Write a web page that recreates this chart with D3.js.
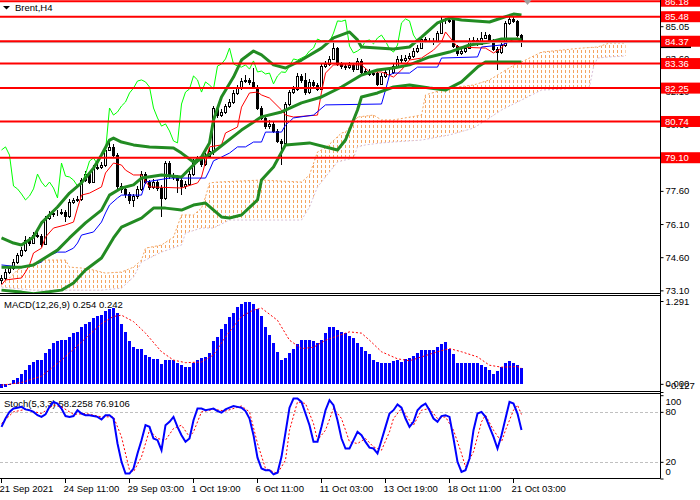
<!DOCTYPE html>
<html>
<head>
<meta charset="utf-8">
<script src="https://cdn.jsdelivr.net/npm/d3@7"></script>
<style>
body { margin: 0; background: #fff; }
svg { display: block; font-family: "Liberation Sans", Arial, sans-serif; font-size: 9.5px; }
.axis path { display: none; }
.axis line { stroke: #000; }
.axis text { fill: #000; font-family: "Liberation Sans", Arial, sans-serif; font-size: 9.5px; }
.kumo line { shape-rendering: crispEdges; }
</style>
</head>
<body>
<div id="chart"></div>
<script>
// DATA (Brent H4, bars numbered from 0 = first candle on screen)
const barOpen = [
    73.55, 73.66, 73.93, 74.11, 74.38, 74.70, 74.92, 75.38, 75.24, 75.60,
    75.56, 75.20, 76.37, 76.55, 76.60, 76.58, 76.64, 76.46, 77.10, 77.19,
    77.23, 78.09, 78.36, 78.00, 78.63, 78.68, 78.77, 79.45, 79.59, 79.22,
    77.82, 77.69, 77.46, 77.19, 77.37, 77.69, 78.36, 78.00, 77.78, 78.00,
    77.73, 77.28, 78.86, 78.27, 78.23, 78.09, 77.82, 77.91, 78.36, 78.95,
    79.09, 78.81, 79.18, 79.40, 81.35, 81.03, 81.17, 81.44, 81.62, 82.03,
    82.25, 82.57, 82.62, 82.53, 82.30, 81.35, 80.90, 80.53, 80.63, 80.31,
    79.86, 79.77, 81.53, 82.07, 82.21, 82.80, 82.62, 82.07, 82.53, 82.39,
    82.21, 83.25, 83.34, 83.57, 84.06, 83.34, 83.25, 83.20, 83.30, 83.11,
    83.48, 82.98, 83.02, 82.89, 82.93, 82.44, 82.80, 82.98, 82.96, 83.25,
    83.57, 83.52, 83.61, 83.70, 83.93, 84.06, 84.47, 84.38, 84.40, 84.34,
    84.74, 85.29, 85.27, 85.33, 84.15, 83.84, 83.93, 84.06, 84.38, 84.43,
    84.25, 84.52, 84.65, 84.38, 84.02, 83.88, 84.20, 85.20, 85.38, 85.29,
    84.65
];
const barHigh = [
    73.78, 74.05, 74.22, 74.50, 74.80, 75.05, 75.55, 75.50, 75.72, 75.75,
    75.66, 76.48, 76.70, 76.75, 76.72, 76.80, 76.75, 77.22, 77.30, 77.35,
    78.20, 78.50, 78.45, 78.75, 78.80, 78.90, 79.55, 79.90, 79.70, 79.30,
    77.95, 77.80, 77.55, 77.48, 77.80, 78.48, 78.45, 78.10, 78.12, 78.10,
    77.85, 78.96, 78.95, 78.40, 78.32, 78.20, 78.05, 78.48, 79.05, 79.20,
    79.18, 79.30, 79.52, 81.45, 81.45, 81.30, 81.55, 81.75, 82.15, 82.38,
    82.70, 82.84, 82.72, 83.16, 82.38, 81.42, 81.00, 80.80, 80.72, 80.40,
    79.95, 81.62, 82.18, 82.35, 82.95, 82.90, 82.93, 82.65, 82.62, 82.48,
    83.35, 83.48, 83.70, 84.34, 84.12, 83.42, 83.35, 83.45, 83.40, 83.62,
    83.55, 83.15, 83.10, 83.05, 83.00, 82.92, 83.10, 83.08, 83.38, 83.70,
    83.75, 83.75, 83.82, 84.05, 84.18, 84.58, 84.55, 84.52, 84.50, 84.85,
    85.47, 85.40, 85.45, 85.40, 84.22, 84.05, 84.18, 84.50, 84.55, 84.50,
    84.79, 84.78, 84.70, 84.45, 84.10, 84.32, 85.28, 85.56, 85.48, 85.35,
    84.72
];
const barLow = [
    73.40, 73.58, 73.85, 74.02, 74.30, 74.62, 74.85, 75.12, 75.18, 75.45,
    75.05, 75.15, 76.28, 76.40, 76.45, 76.50, 76.20, 76.38, 77.00, 77.10,
    77.15, 78.00, 77.90, 77.95, 78.55, 78.60, 78.70, 79.40, 79.12, 77.70,
    77.50, 77.30, 77.00, 76.85, 77.25, 77.60, 77.90, 77.65, 77.70, 77.60,
    76.42, 77.20, 78.15, 78.10, 77.50, 77.41, 77.70, 77.80, 78.28, 78.85,
    78.70, 78.72, 79.10, 79.22, 80.90, 80.95, 81.10, 81.35, 81.55, 81.95,
    82.18, 82.48, 82.40, 82.20, 81.25, 80.80, 80.40, 80.42, 80.20, 79.75,
    78.77, 79.70, 81.45, 82.00, 82.12, 82.50, 81.95, 81.98, 82.28, 82.10,
    82.15, 83.15, 83.25, 83.50, 83.25, 83.12, 83.05, 83.10, 83.00, 83.05,
    82.88, 82.85, 82.78, 82.80, 82.35, 82.38, 82.72, 82.85, 82.90, 83.18,
    83.40, 83.42, 83.50, 83.62, 83.85, 84.00, 84.28, 84.28, 84.22, 84.28,
    84.68, 85.15, 85.18, 84.05, 83.72, 83.75, 83.85, 84.00, 84.30, 84.15,
    84.18, 84.45, 84.28, 83.92, 83.07, 83.80, 84.12, 85.12, 85.18, 84.55,
    84.11
];
const barClose = [
    73.66, 73.93, 74.11, 74.38, 74.70, 74.92, 75.38, 75.24, 75.60, 75.56,
    75.20, 76.37, 76.55, 76.60, 76.58, 76.64, 76.46, 77.10, 77.19, 77.23,
    78.09, 78.36, 78.00, 78.63, 78.68, 78.77, 79.45, 79.59, 79.22, 77.82,
    77.69, 77.46, 77.19, 77.37, 77.69, 78.36, 78.00, 77.78, 78.00, 77.73,
    77.28, 78.86, 78.27, 78.23, 78.09, 77.82, 77.91, 78.36, 78.95, 79.09,
    78.81, 79.18, 79.40, 81.35, 81.03, 81.17, 81.44, 81.62, 82.03, 82.25,
    82.57, 82.62, 82.53, 82.30, 81.35, 80.90, 80.53, 80.63, 80.31, 79.86,
    79.77, 81.53, 82.07, 82.21, 82.80, 82.62, 82.07, 82.53, 82.39, 82.21,
    83.25, 83.34, 83.57, 84.06, 83.34, 83.25, 83.20, 83.30, 83.11, 83.48,
    82.98, 83.02, 82.89, 82.93, 82.44, 82.80, 82.98, 82.96, 83.25, 83.57,
    83.52, 83.61, 83.70, 83.93, 84.06, 84.47, 84.38, 84.40, 84.34, 84.74,
    85.29, 85.27, 85.33, 84.15, 83.84, 83.93, 84.06, 84.38, 84.43, 84.25,
    84.52, 84.65, 84.38, 84.02, 83.88, 84.20, 85.20, 85.38, 85.29, 84.65,
    84.37
];

// Bollinger bands [bar, price]
const bbUpper = [[0,75.47],[3,75.24],[5,75.15],[8,75.51],[10,76.15],[14,76.87],[17,77.50],[20,77.96],[23,78.63],[25,79.22],[27,79.90],[28,79.99],[30,79.81],[33,79.68],[37,79.59],[43,79.54],[45,79.31],[48,78.91],[50,79.13],[52,79.77],[53,80.81],[55,81.85],[58,82.75],[60,83.52],[63,83.93],[65,83.75],[68,83.30],[71,83.16],[75,83.52],[80,84.06],[83,84.52],[87,84.79],[89,84.43],[90,84.11],[98,84.02],[102,84.11],[105,84.56],[109,85.20],[112,85.42],[115,85.33],[122,85.24],[125,85.42],[128,85.60],[130,85.56]];
const bbMiddle = [[0,74.15],[5,74.15],[8,74.25],[10,74.47],[14,74.92],[17,75.47],[21,76.15],[25,76.73],[27,77.41],[30,77.73],[33,77.87],[35,78.18],[40,78.32],[45,78.23],[49,78.96],[53,79.36],[60,80.35],[65,80.95],[70,81.17],[75,81.58],[80,81.85],[85,82.30],[90,82.84],[94,83.07],[98,83.16],[102,83.30],[107,83.66],[112,83.88],[117,84.20],[122,84.34],[125,84.47],[129,84.47],[130,84.43]];
const bbLower = [[0,73.11],[5,73.02],[8,72.95],[15,73.11],[18,73.43],[21,74.02],[25,74.56],[28,75.47],[30,75.96],[35,76.37],[38,76.82],[41,76.82],[45,76.73],[48,76.96],[51,77.05],[55,76.42],[57,76.37],[60,76.51],[64,77.19],[65,78.09],[68,78.68],[71,79.68],[77,79.77],[82,79.54],[84,79.45],[86,79.90],[89,81.26],[90,81.85],[94,82.03],[98,82.30],[102,82.39],[107,82.25],[111,82.16],[115,82.53],[119,83.20],[121,83.43],[125,83.43],[130,83.43]];

// Ichimoku lines [bar, price]
const tenkan = [[0,73.34],[1,73.57],[5,73.66],[6,73.93],[7,74.25],[8,74.79],[10,75.01],[11,75.51],[13,75.92],[16,76.06],[18,76.19],[19,76.82],[20,77.41],[22,77.50],[25,77.78],[26,78.41],[28,78.86],[30,78.77],[31,78.54],[33,78.32],[35,78.32],[37,77.78],[45,77.73],[49,77.96],[50,78.23],[52,79.59],[55,79.68],[56,80.22],[59,80.49],[60,81.39],[62,82.03],[64,82.07],[65,81.94],[67,81.80],[70,81.26],[71,81.03],[73,80.94],[79,81.03],[80,82.07],[81,82.93],[83,83.30],[90,83.30],[92,82.98],[95,82.98],[98,82.75],[100,83.07],[102,83.52],[105,83.61],[108,83.97],[110,84.34],[111,84.79],[114,84.11],[121,84.06],[123,83.84],[125,84.06],[126,84.29],[129,84.52],[130,84.34]];
const kijun = [[0,74.25],[5,74.15],[8,74.25],[10,74.38],[11,74.61],[14,74.83],[16,74.83],[18,75.01],[19,75.24],[20,75.60],[23,75.74],[25,76.19],[26,76.60],[27,76.96],[29,77.28],[30,77.41],[35,77.41],[36,78.00],[42,78.18],[51,78.18],[52,78.54],[53,78.96],[55,79.13],[57,79.31],[59,79.59],[61,79.59],[63,79.81],[65,79.81],[66,80.26],[70,80.26],[71,80.58],[73,80.90],[78,81.03],[81,81.49],[95,81.53],[96,82.16],[97,82.84],[98,82.93],[102,82.93],[104,83.20],[109,83.20],[110,83.61],[119,83.66],[120,84.11],[125,84.20],[127,84.34],[130,84.34]];
const senkouA = [[0,73.57],[2,73.66],[4,74.02],[5,74.11],[7,74.25],[10,74.47],[16,74.47],[17,74.15],[20,74.11],[23,74.02],[26,73.88],[30,73.93],[33,74.15],[35,74.47],[36,75.01],[40,75.15],[43,75.51],[45,76.51],[48,76.51],[50,76.82],[51,77.32],[52,77.96],[54,78.00],[65,78.09],[75,78.00],[77,78.32],[79,79.36],[81,79.54],[85,80.22],[86,80.26],[89,80.94],[93,81.03],[95,80.81],[98,80.81],[105,81.03],[106,81.94],[110,82.16],[114,82.30],[118,82.39],[122,82.62],[129,83.39],[130,83.43],[135,83.88],[140,83.97],[145,84.06],[149,84.11],[152,84.29],[156,84.29]];
const senkouB = [[0,73.25],[8,73.11],[25,73.11],[30,73.20],[33,73.70],[35,74.38],[40,74.83],[45,75.15],[46,75.69],[50,75.92],[53,75.92],[57,76.28],[75,76.28],[77,76.87],[79,77.78],[81,78.23],[84,78.91],[88,79.09],[89,79.59],[91,79.68],[95,79.77],[98,79.81],[105,79.90],[112,80.13],[118,80.44],[122,80.90],[125,81.26],[130,81.71],[135,82.16],[145,82.25],[147,82.30],[148,83.20],[149,83.61],[152,83.66],[156,83.70]];
const chikouShift = 26;

// horizontal levels and price axis
const levels = [86.18, 85.48, 84.37, 83.36, 82.25, 80.74, 79.10];
const priceTicks = [73.10, 74.60, 76.10, 77.60, 79.10, 80.60, 82.10, 83.60, 85.05];
const bidPrice = 84.31;

// MACD(12,26,9)
const macdHist = [
    -0.07, -0.05, -0.01, 0.06, 0.085, 0.15, 0.21, 0.29, 0.34, 0.37,
    0.37, 0.48, 0.55, 0.63, 0.66, 0.68, 0.68, 0.73, 0.79, 0.81,
    0.89, 0.93, 0.97, 1.02, 1.06, 1.07, 1.14, 1.16, 1.18, 1.10,
    0.94, 0.81, 0.67, 0.57, 0.54, 0.54, 0.45, 0.42, 0.39, 0.39,
    0.31, 0.37, 0.37, 0.37, 0.33, 0.29, 0.26, 0.26, 0.33, 0.37,
    0.40, 0.42, 0.48, 0.66, 0.73, 0.85, 0.94, 1.04, 1.11, 1.20,
    1.25, 1.28, 1.28, 1.25, 1.16, 1.05, 0.89, 0.76, 0.63, 0.50,
    0.37, 0.40, 0.48, 0.54, 0.62, 0.68, 0.68, 0.69, 0.67, 0.64,
    0.68, 0.79, 0.88, 0.88, 0.84, 0.81, 0.79, 0.75, 0.71, 0.64,
    0.58, 0.51, 0.46, 0.37, 0.34, 0.33, 0.32, 0.33, 0.36, 0.37,
    0.34, 0.39, 0.40, 0.43, 0.48, 0.53, 0.53, 0.53, 0.53, 0.57,
    0.62, 0.65, 0.55, 0.46, 0.33, 0.33, 0.33, 0.33, 0.33, 0.32,
    0.29, 0.26, 0.21, 0.15, 0.20, 0.26, 0.33, 0.36, 0.33, 0.29,
    0.254
];
const macdSignal = [[0,-0.02],[5,0.02],[10,0.12],[15,0.37],[20,0.65],[25,0.94],[28,1.05],[30,1.07],[33,0.97],[36,0.79],[40,0.50],[43,0.37],[46,0.33],[50,0.34],[53,0.45],[56,0.73],[60,1.05],[63,1.15],[65,1.18],[69,0.99],[72,0.68],[75,0.55],[78,0.57],[81,0.68],[86,0.79],[87,0.81],[90,0.79],[92,0.68],[95,0.50],[99,0.39],[102,0.36],[105,0.42],[109,0.50],[112,0.55],[115,0.50],[119,0.42],[122,0.29],[125,0.26],[129,0.27],[130,0.242]];
const macdTicks = [1.291, 0.000, -0.127];

// Stochastic(5,3,3)
const stochMain = [
    62, 72, 80, 84, 85, 86, 83, 82, 80, 76,
    74, 77, 86, 92, 90, 84, 75, 74, 75, 82,
    78, 76, 76, 75, 74, 71, 76, 76, 72, 42,
    20, 6, 6, 12, 30, 46, 64, 62, 48, 46,
    34, 64, 68, 74, 62, 52, 44, 48, 70, 84,
    84, 82, 83, 84, 81, 79, 83, 85, 87, 86,
    85, 81, 72, 52, 25, 12, 10, 10, 5, 7,
    26, 55, 85, 96, 96, 92, 78, 64, 44, 44,
    62, 82, 94, 88, 70, 48, 36, 36, 46, 56,
    52, 44, 37, 36, 30, 46, 62, 78, 82, 89,
    85, 72, 62, 68, 82, 87, 90, 82, 72, 68,
    75, 76, 74, 48, 20, 8, 10, 24, 58, 78,
    80, 74, 62, 50, 36, 52, 72, 92, 90, 78,
    58.2258
];
const stochSignal = [[0,66],[3,80],[6,83],[10,78],[13,88],[15,86],[18,77],[21,78],[25,74],[28,74],[30,50],[32,10],[33,8],[35,26],[37,58],[39,48],[41,46],[43,60],[45,64],[47,50],[48,56],[50,80],[53,83],[56,81],[60,87],[62,80],[64,42],[66,12],[69,6],[71,22],[72,58],[74,92],[76,90],[78,66],[79,46],[81,58],[83,84],[85,72],[87,44],[89,42],[91,48],[93,38],[95,34],[97,56],[98,72],[100,84],[102,70],[103,64],[105,82],[107,84],[109,72],[111,74],[113,58],[115,30],[116,14],[118,32],[120,68],[121,76],[123,58],[125,44],[126,58],[128,82],[129,88],[130,76.9106]];
const stochLevels = [80, 20];
const stochTicks = [100, 80, 20, 0];

// time axis
const timeBars = [0, 16, 32, 48, 64, 80, 96, 112, 128];
const timeLabels = ["21 Sep 2021", "24 Sep 11:00", "29 Sep 03:00", "1 Oct 19:00", "6 Oct 11:00",
    "11 Oct 03:00", "13 Oct 19:00", "18 Oct 11:00", "21 Oct 03:00"];

// LAYOUT
const svgWidth = 700;
const svgHeight = 500;
const plotRight = 660;
const mainPane = {top: 0, bottom: 293};
const macdPane = {top: 296, bottom: 392};
const stochPane = {top: 394, bottom: 478};

const levelColor = "#ff0000";
const bandColor = "#228b22";
const kumoColor = "#f4a460";

// CHART SETUP
const xScale = d3.scaleLinear().domain([0, 130]).range([1.5, 521.5]);
const yPrice = d3.scaleLinear().domain([72.98, 86.236]).range([mainPane.bottom, mainPane.top]);
const yMacd = d3.scaleLinear().domain([-0.127, 1.291]).range([macdPane.bottom, 301]);
const yStoch = d3.scaleLinear().domain([0, 100]).range([stochPane.bottom + 0.5, macdPane.bottom + 3.2]);

const svg = d3.select("#chart")
    .append("svg")
    .attr("width", svgWidth)
    .attr("height", svgHeight);

svg.append("rect")
    .attr("width", svgWidth)
    .attr("height", svgHeight)
    .attr("fill", "#fff");

const defs = svg.append("defs");

function addClip(id, pane) {
    defs.append("clipPath")
        .attr("id", id)
        .append("rect")
        .attr("x", 0)
        .attr("y", pane.top)
        .attr("width", plotRight)
        .attr("height", pane.bottom - pane.top);
}
addClip("clip-main", mainPane);
addClip("clip-macd", macdPane);
addClip("clip-stoch", stochPane);

const priceLine = d3.line()
    .x(d => xScale(d[0]))
    .y(d => yPrice(d[1]));

// cloud outline used as clip for the hatch
defs.append("clipPath")
    .attr("id", "clip-kumo")
    .append("path")
    .attr("d", priceLine(senkouA.concat(senkouB.slice().reverse())) + "Z");

// MAIN PANE
const mainG = svg.append("g").attr("clip-path", "url(#clip-main)");

// cloud hatch: one dashed column per bar, cut to the cloud
const lastCloudBar = senkouA[senkouA.length - 1][0];
mainG.append("g")
    .attr("class", "kumo")
    .attr("clip-path", "url(#clip-kumo)")
    .selectAll("line")
    .data(d3.range(0, lastCloudBar + 1))
    .join("line")
    .attr("x1", d => xScale(d))
    .attr("x2", d => xScale(d))
    .attr("y1", mainPane.top)
    .attr("y2", mainPane.bottom)
    .attr("stroke", kumoColor)
    .attr("stroke-dasharray", "3,2");

mainG.append("path")
    .attr("d", priceLine(senkouA))
    .attr("fill", "none")
    .attr("stroke", kumoColor)
    .attr("stroke-dasharray", "2,2");

mainG.append("path")
    .attr("d", priceLine(senkouB))
    .attr("fill", "none")
    .attr("stroke", "#d8bfd8")
    .attr("stroke-dasharray", "2,2");

// candles
const candles = mainG.append("g")
    .selectAll("g")
    .data(barClose.map((c, i) => ({i: i, o: barOpen[i], h: barHigh[i], l: barLow[i], c: c})))
    .join("g");

candles.append("line")
    .attr("x1", d => xScale(d.i))
    .attr("x2", d => xScale(d.i))
    .attr("y1", d => Math.round(yPrice(d.h)))
    .attr("y2", d => Math.round(yPrice(d.l)))
    .attr("stroke", "#000");

candles.append("rect")
    .attr("x", d => xScale(d.i) - 1)
    .attr("y", d => Math.round(yPrice(Math.max(d.o, d.c))) + 0.5)
    .attr("width", 2)
    .attr("height", d => Math.max(0, Math.round(yPrice(Math.min(d.o, d.c))) - Math.round(yPrice(Math.max(d.o, d.c)))))
    .attr("fill", d => d.c >= d.o ? "#fff" : "#000")
    .attr("stroke", "#000");

// ichimoku lines
mainG.append("path")
    .attr("d", priceLine(barClose.map((c, i) => [i - chikouShift, c]).filter(d => d[0] >= 0)))
    .attr("fill", "none")
    .attr("stroke", "#00ff00");

mainG.append("path")
    .attr("d", priceLine(tenkan))
    .attr("fill", "none")
    .attr("stroke", "#ff0000");

mainG.append("path")
    .attr("d", priceLine(kijun))
    .attr("fill", "none")
    .attr("stroke", "#0000ff");

// bollinger bands
[bbUpper, bbMiddle, bbLower].forEach(band => {
    mainG.append("path")
        .attr("d", priceLine(band))
        .attr("fill", "none")
        .attr("stroke", bandColor)
        .attr("stroke-width", 3)
        .attr("stroke-linejoin", "round");
});

// bid line
mainG.append("line")
    .attr("x1", 0)
    .attr("x2", plotRight)
    .attr("y1", yPrice(bidPrice))
    .attr("y2", yPrice(bidPrice))
    .attr("stroke", "#c0c0c0");

// support / resistance levels
mainG.selectAll(".level")
    .data(levels)
    .join("line")
    .classed("level", true)
    .attr("x1", 0)
    .attr("x2", plotRight)
    .attr("y1", d => yPrice(d))
    .attr("y2", d => yPrice(d))
    .attr("stroke", levelColor)
    .attr("stroke-width", 2);

// title
svg.append("path")
    .attr("d", "M3,6 L10,6 L6.5,9.5 Z")
    .attr("fill", "#000");
svg.append("text")
    .attr("x", 15)
    .attr("y", 11)
    .text("Brent,H4");

// chart shift marker
svg.append("path")
    .attr("d", `M${xScale(131.5) - 4},0 L${xScale(131.5) + 4},0 L${xScale(131.5)},5 Z`)
    .attr("fill", "#a0a0a0");

// price axis
svg.append("g")
    .attr("class", "axis")
    .attr("transform", `translate(${plotRight + 0.5},0)`)
    .call(d3.axisRight(yPrice).tickValues(priceTicks).tickFormat(d3.format(".2f")).tickSize(3).tickPadding(2));

svg.append("rect")
    .attr("x", plotRight + 1)
    .attr("y", yPrice(bidPrice) - 5.5)
    .attr("width", 30)
    .attr("height", 11)
    .attr("fill", "#000");

const levelTags = svg.selectAll(".level-tag")
    .data(levels)
    .join("g")
    .classed("level-tag", true)
    .attr("transform", d => `translate(${plotRight + 1},${yPrice(d)})`);

levelTags.append("rect")
    .attr("x", 0)
    .attr("y", -5.5)
    .attr("width", svgWidth - plotRight)
    .attr("height", 11)
    .attr("fill", levelColor);

levelTags.append("text")
    .attr("x", 4)
    .attr("y", 3.5)
    .attr("fill", "#fff")
    .text(d => d3.format(".2f")(d));

// MACD PANE
const macdG = svg.append("g").attr("clip-path", "url(#clip-macd)");

macdG.append("text")
    .attr("x", 4)
    .attr("y", 308)
    .text("MACD(12,26,9) 0.254 0.242");

macdG.selectAll("rect")
    .data(macdHist)
    .join("rect")
    .attr("x", (d, i) => xScale(i) - 1.5)
    .attr("y", d => Math.round(yMacd(Math.max(0, d))))
    .attr("width", 3)
    .attr("height", d => Math.max(1, Math.abs(Math.round(yMacd(d)) - Math.round(yMacd(0)))))
    .attr("fill", "#0000ff");

macdG.append("path")
    .attr("d", d3.line().x(d => xScale(d[0])).y(d => yMacd(d[1]))(macdSignal))
    .attr("fill", "none")
    .attr("stroke", "#ff0000")
    .attr("stroke-dasharray", "2,2");

const macdAxis = svg.append("g")
    .attr("class", "axis")
    .attr("transform", `translate(${plotRight + 0.5},0)`)
    .call(d3.axisRight(yMacd).tickValues(macdTicks).tickFormat(d3.format(".3f")).tickSize(3).tickPadding(2));
macdAxis.selectAll(".tick")
    .filter(d => d === -0.127)
    .select("text")
    .attr("dy", "-0.32em");

// STOCH PANE
const stochG = svg.append("g").attr("clip-path", "url(#clip-stoch)");

stochG.selectAll(".stoch-level")
    .data(stochLevels)
    .join("line")
    .classed("stoch-level", true)
    .attr("x1", 0)
    .attr("x2", plotRight)
    .attr("y1", d => Math.round(yStoch(d)) + 0.5)
    .attr("y2", d => Math.round(yStoch(d)) + 0.5)
    .attr("stroke", "#c0c0c0")
    .attr("stroke-dasharray", "3,2");

stochG.append("text")
    .attr("x", 4)
    .attr("y", 407)
    .text("Stoch(5,3,3) 58.2258 76.9106");

stochG.append("path")
    .attr("d", d3.line().x(d => xScale(d[0])).y(d => yStoch(d[1]))(stochSignal))
    .attr("fill", "none")
    .attr("stroke", "#ff0000")
    .attr("stroke-dasharray", "2,2");

stochG.append("path")
    .attr("d", d3.line().x((d, i) => xScale(i)).y(d => yStoch(d))(stochMain))
    .attr("fill", "none")
    .attr("stroke", "#0000ff")
    .attr("stroke-width", 2);

const stochAxis = svg.append("g")
    .attr("class", "axis")
    .attr("transform", `translate(${plotRight + 0.5},0)`)
    .call(d3.axisRight(yStoch).tickValues(stochTicks).tickSize(3).tickPadding(2));
stochAxis.selectAll(".tick")
    .filter(d => d === 100)
    .select("text")
    .attr("dy", "1em");
stochAxis.selectAll(".tick")
    .filter(d => d === 0)
    .select("text")
    .attr("dy", "-0.4em");

// FRAMES
const frames = svg.append("g")
    .attr("stroke", "#000")
    .attr("fill", "none");

[mainPane.bottom + 0.5, macdPane.top - 0.5, macdPane.bottom - 0.5, stochPane.top - 0.5, stochPane.bottom + 0.5]
    .forEach(y => {
        frames.append("line")
            .attr("x1", 0)
            .attr("x2", plotRight + 0.5)
            .attr("y1", y)
            .attr("y2", y);
    });

frames.append("line")
    .attr("x1", plotRight + 0.5)
    .attr("x2", plotRight + 0.5)
    .attr("y1", 0)
    .attr("y2", stochPane.bottom + 0.5);

// TIME AXIS
const timeG = svg.append("g");

timeG.selectAll("line")
    .data(timeBars)
    .join("line")
    .attr("x1", d => Math.round(xScale(d)) - 0.5)
    .attr("x2", d => Math.round(xScale(d)) - 0.5)
    .attr("y1", stochPane.bottom + 1)
    .attr("y2", stochPane.bottom + 5)
    .attr("stroke", "#000");

timeG.selectAll("text")
    .data(timeBars)
    .join("text")
    .attr("x", d => xScale(d) - 2)
    .attr("y", 492)
    .text((d, i) => timeLabels[i]);
</script>
</body>
</html>
